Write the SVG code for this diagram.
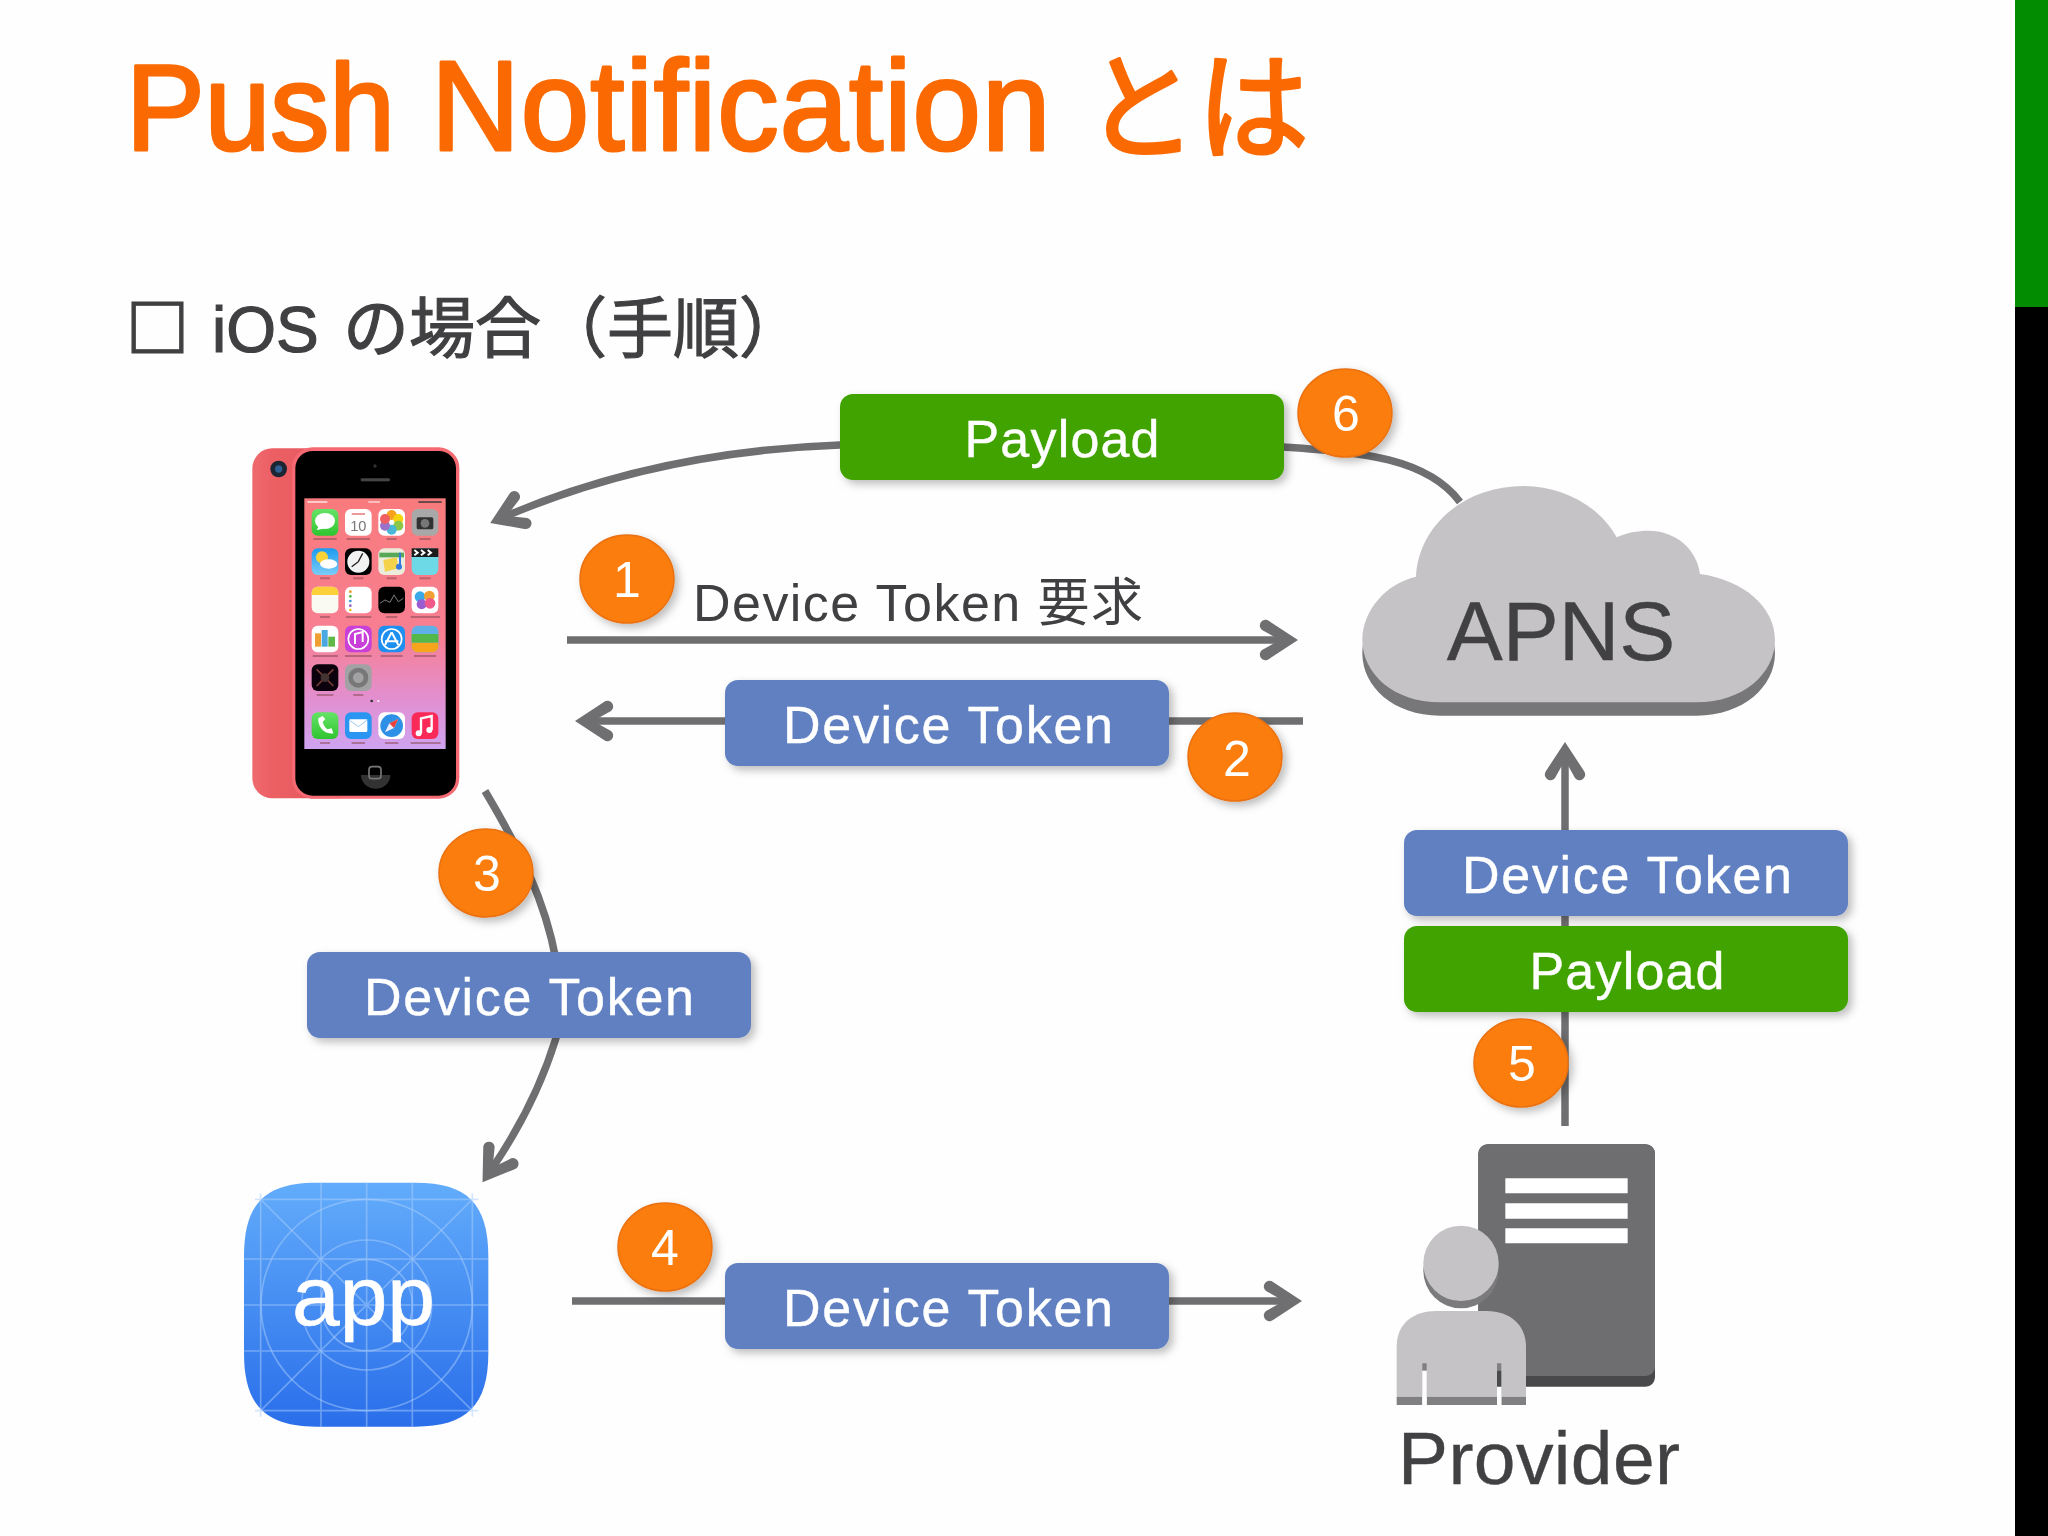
<svg xmlns="http://www.w3.org/2000/svg" width="2048" height="1536" viewBox="0 0 2048 1536">
<style>
text{font-family:"Liberation Sans","Noto Sans CJK JP",sans-serif}
.conn{fill:none;stroke:#6f6f71;stroke-width:7.5}
.pill{filter:url(#sh)}
.blue{fill:#6080c2}
.green{fill:#40a302}
.pt{fill:#fff;font-size:52px;text-anchor:middle;stroke:#fff;stroke-width:.4}
.badge{fill:#fb7d07;stroke:#ea7112;stroke-width:1.5;filter:url(#sh)}
.bt{fill:#fff;font-size:50px;text-anchor:middle}
.dk{fill:#414143;stroke:#414143;stroke-width:.4}
.lab{fill:#8a4a55;opacity:.55}
.gl{stroke:#a9cdfb;stroke-opacity:.5;stroke-width:5;fill:none}
</style>
<defs>
<marker id="ah" markerUnits="userSpaceOnUse" markerWidth="60" markerHeight="60" refX="25" refY="30" orient="auto" overflow="visible"><path fill="#6f6f71" d="M40 30L11 11A5 5 0 0 0 4 20L22 30L4 40A5 5 0 0 0 11 49Z"/></marker>
<filter id="sh" x="-15%" y="-25%" width="130%" height="150%"><feDropShadow dx="4" dy="4" stdDeviation="4" flood-color="#000" flood-opacity=".26"/></filter>
<filter id="soft"><feGaussianBlur stdDeviation="1.6"/></filter>
<linearGradient id="lcd" x1="0" y1="0" x2="0" y2="1"><stop offset="0" stop-color="#f97a7c"/><stop offset=".55" stop-color="#f77f92"/><stop offset=".8" stop-color="#e28fd0"/><stop offset="1" stop-color="#cfa3f0"/></linearGradient>
<linearGradient id="bk" x1="0" y1="0" x2="1" y2="0"><stop offset="0" stop-color="#ee6a6e"/><stop offset=".2" stop-color="#ec5f64"/><stop offset="1" stop-color="#e0555c"/></linearGradient>
<linearGradient id="appg" x1="0" y1="0" x2="0" y2="1"><stop offset="0" stop-color="#62acfb"/><stop offset="1" stop-color="#2a6eea"/></linearGradient>
<linearGradient id="gr1" x1="0" y1="0" x2="0" y2="1"><stop offset="0" stop-color="#66e368"/><stop offset="1" stop-color="#2fc42f"/></linearGradient>
<linearGradient id="bl1" x1="0" y1="0" x2="0" y2="1"><stop offset="0" stop-color="#1c9af0"/><stop offset="1" stop-color="#7acdf8"/></linearGradient>
</defs>
<rect width="2048" height="1536" fill="#fefefe"/>
<rect x="2015" y="0" width="33" height="307" fill="#018c01"/>
<rect x="2015" y="307" width="33" height="1229" fill="#000"/>

<g id="title"><text transform="translate(126 150) scale(1 1.04)" font-size="118" fill="#fb6a02" stroke="#fb6a02" stroke-width="3" stroke-linejoin="round">Push <tspan x="305" font-size="123" letter-spacing="1">Notification</tspan> <tspan x="959" font-size="112">とは</tspan></text></g>
<g id="subtitle"><text x="132" y="353" font-size="66" fill="#404042" stroke="#404042" stroke-width="1.2"><tspan font-size="85">□</tspan> <tspan x="212" y="352" font-size="64">iOS</tspan> <tspan x="343" y="352">の場合（手順）</tspan></text></g>

<g id="connectors">
<path class="conn" marker-end="url(#ah)" d="M1460 502C1425 455 1350 452 1284 447L1062 440L840 445C700 450 590 480 504 517"/>
<path class="conn" marker-end="url(#ah)" d="M567 640H1283"/>
<path class="conn" marker-end="url(#ah)" d="M1303 721H590"/>
<path class="conn" marker-end="url(#ah)" d="M485 791C520 850 545 900 556 960L556 1038C540 1090 515 1135 491 1170"/>
<path class="conn" marker-end="url(#ah)" d="M572 1301H1287"/>
<path class="conn" marker-end="url(#ah)" d="M1565 1126V757"/>
</g>

<g id="iphone" transform="translate(220 420) scale(.33333)">
<g filter="url(#soft)">
<rect x="97" y="85" width="320" height="1050" rx="60" fill="url(#bk)"/>
<rect x="216" y="82" width="502" height="1054" rx="62" fill="#f56a72"/>
<rect x="226" y="93" width="482" height="1034" rx="52" fill="#030303"/>
<circle cx="176" cy="147" r="25" fill="#1b2530"/><circle cx="176" cy="147" r="11" fill="#2d5e93"/>
<circle cx="465" cy="138" r="5" fill="#333"/><rect x="422" y="175" width="88" height="9" rx="4" fill="#444"/>
<path d="M423 1065A43 40 0 0 0 511 1065" fill="#333"/>
<rect x="447" y="1040" width="36" height="36" rx="9" fill="none" stroke="#777" stroke-width="5"/>
<rect x="253" y="235" width="424" height="752" fill="url(#lcd)"/>
<rect x="262" y="243" width="60" height="6" fill="#fff" opacity=".6"/><rect x="445" y="243" width="35" height="6" fill="#fff" opacity=".5"/><rect x="595" y="243" width="70" height="6" fill="#333" opacity=".7"/>
<!-- row 1 -->
<rect x="275" y="267" width="80" height="80" rx="18" fill="url(#gr1)"/><ellipse cx="315" cy="303" rx="30" ry="24" fill="#fff"/><path d="M290 330L298 315L310 326Z" fill="#fff"/>
<rect x="375" y="267" width="80" height="80" rx="18" fill="#fff"/><text x="415" y="334" font-size="44" fill="#777" text-anchor="middle">10</text><rect x="395" y="279" width="40" height="6" fill="#d33" opacity=".5"/>
<rect x="475" y="267" width="80" height="80" rx="18" fill="#fff"/><circle cx="515" cy="285" r="15" fill="#f7a11a"/><circle cx="535" cy="297" r="15" fill="#f6d40f"/><circle cx="535" cy="317" r="15" fill="#8bc84a"/><circle cx="515" cy="329" r="15" fill="#48b8d8"/><circle cx="495" cy="317" r="15" fill="#9a73c8"/><circle cx="495" cy="297" r="15" fill="#ef5e62"/>
<rect x="575" y="267" width="80" height="80" rx="18" fill="#a8a8a8"/><rect x="590" y="292" width="50" height="36" rx="5" fill="#333"/><circle cx="615" cy="310" r="13" fill="#777"/>
<!-- row 2 -->
<rect x="275" y="385" width="80" height="80" rx="18" fill="url(#bl1)"/><circle cx="306" cy="412" r="18" fill="#fbd238"/><ellipse cx="326" cy="432" rx="26" ry="14" fill="#fff"/>
<rect x="375" y="385" width="80" height="80" rx="18" fill="#050505"/><circle cx="415" cy="425" r="33" fill="#f2f2f2"/><path d="M415 425L395 440M415 425L428 400" stroke="#222" stroke-width="4"/>
<rect x="475" y="385" width="80" height="80" rx="18" fill="#ececdc"/><path d="M478 398H552V412H478Z" fill="#58a858"/><path d="M490 420L530 412L535 445L495 455Z" fill="#f4d24a"/><path d="M540 398V440" stroke="#3478e0" stroke-width="6"/><circle cx="537" cy="440" r="9" fill="#3478e0"/>
<rect x="575" y="385" width="80" height="80" rx="18" fill="#6ed9e6"/><rect x="575" y="385" width="80" height="26" fill="#1a1a1a"/><path d="M583 390L593 398L583 406M603 390L613 398L603 406M623 390L633 398L623 406" stroke="#fff" stroke-width="6" fill="none"/>
<!-- row 3 -->
<rect x="275" y="500" width="80" height="80" rx="18" fill="#fbfaf2"/><path d="M275 525V518A18 18 0 0 1 293 500H337A18 18 0 0 1 355 518V525Z" fill="#fbd039"/>
<rect x="375" y="500" width="80" height="80" rx="18" fill="#fff"/><circle cx="391" cy="515" r="4" fill="#f7931e"/><circle cx="391" cy="529" r="4" fill="#4db34d"/><circle cx="391" cy="543" r="4" fill="#3a8fe0"/><circle cx="391" cy="557" r="4" fill="#9a5cc8"/><circle cx="391" cy="570" r="4" fill="#f0c020"/>
<rect x="475" y="500" width="80" height="80" rx="18" fill="#060606"/><path d="M480 550L495 540L510 547L522 525L535 545L550 535" stroke="#777" stroke-width="3" fill="none"/>
<rect x="575" y="500" width="80" height="80" rx="18" fill="#fff"/><circle cx="600" cy="530" r="16" fill="#3aa8e8"/><circle cx="628" cy="528" r="16" fill="#f0a030"/><circle cx="605" cy="553" r="15" fill="#9a5cd0"/><circle cx="630" cy="550" r="16" fill="#f05a8a"/>
<!-- row 4 -->
<rect x="275" y="617" width="80" height="80" rx="18" fill="#fff"/><rect x="285" y="640" width="18" height="40" fill="#f0a030"/><rect x="305" y="630" width="18" height="50" fill="#4aa8e0"/><rect x="325" y="650" width="20" height="30" fill="#60b848"/>
<rect x="375" y="617" width="80" height="80" rx="18" fill="#c83fd8"/><circle cx="415" cy="657" r="30" fill="none" stroke="#fff" stroke-width="5"/><path d="M405 672V642L428 636V666" stroke="#fff" stroke-width="6" fill="none"/>
<rect x="475" y="617" width="80" height="80" rx="18" fill="#1f8ff0"/><circle cx="515" cy="657" r="30" fill="none" stroke="#fff" stroke-width="5"/><path d="M515 637L495 675M515 637L535 675M495 664H535" stroke="#fff" stroke-width="6" fill="none"/>
<rect x="575" y="617" width="80" height="80" rx="18" fill="#60b0e8"/><rect x="575" y="642" width="80" height="26" fill="#52b848"/><path d="M575 668H655V679A18 18 0 0 1 637 697H593A18 18 0 0 1 575 679Z" fill="#f7a51e"/>
<!-- row 5 -->
<rect x="275" y="733" width="80" height="80" rx="18" fill="#080608"/><path d="M290 748L340 798M340 748L290 798" stroke="#7a3a3a" stroke-width="5"/><circle cx="315" cy="773" r="13" fill="#433"/>
<rect x="375" y="733" width="80" height="80" rx="18" fill="#a2a2a4"/><circle cx="415" cy="773" r="30" fill="#787878"/><circle cx="415" cy="773" r="16" fill="#a2a2a4"/>
<circle cx="455" cy="843" r="4" fill="#333"/><circle cx="475" cy="843" r="3" fill="#fff"/>
<!-- dock -->
<rect x="275" y="877" width="80" height="80" rx="18" fill="url(#gr1)"/><path d="M295 895C292 920 315 945 340 940L335 925L322 928C315 922 310 915 308 905L316 898L308 888Z" fill="#fff"/>
<rect x="375" y="877" width="80" height="80" rx="18" fill="#2a96f2"/><rect x="388" y="898" width="54" height="38" rx="4" fill="#fff"/><path d="M388 900L415 920L442 900" stroke="#9cc8ef" stroke-width="3" fill="none"/>
<rect x="475" y="877" width="80" height="80" rx="18" fill="#fff"/><circle cx="515" cy="917" r="34" fill="#2f8fe6"/><path d="M535 897L522 924L495 937L508 910Z" fill="#eef"/><path d="M535 897L522 924L508 910Z" fill="#e8433a"/>
<rect x="575" y="877" width="80" height="80" rx="18" fill="#f92c58"/><path d="M603 940V895L635 888V930" stroke="#fff" stroke-width="7" fill="none"/><circle cx="596" cy="940" r="9" fill="#fff"/><circle cx="628" cy="930" r="9" fill="#fff"/>
<!-- icon captions -->
<path class="lab" d="M280 354h70v6h-70zM380 354h70v6h-70zM500 354h30v6h-30zM598 354h34v6h-34zM300 472h30v6h-30zM400 472h30v6h-30zM500 472h30v6h-30zM598 472h34v6h-34zM300 588h30v6h-30zM378 588h76v6h-76zM498 588h34v6h-34zM572 588h88v6h-88zM278 705h76v6h-76zM375 705h80v6h-80zM482 705h66v6h-66zM582 705h66v6h-66zM290 822h50v6h-50zM400 822h30v6h-30zM300 966h30v6h-30zM395 966h40v6h-40zM495 966h40v6h-40zM572 966h90v6h-90z"/>
</g>
</g>

<g id="apns" transform="translate(1330 450) scale(.33333)">
<path transform="translate(0 40)" fill="#777779" d="M330 757C190 757 97 670 97 570C97 480 170 400 258 380C265 230 400 108 580 108C700 108 810 170 860 262C890 248 920 242 955 242C1035 242 1100 295 1110 372C1240 390 1335 470 1335 570C1335 670 1240 757 1100 757Z"/>
<path fill="#c5c3c6" d="M330 757C190 757 97 670 97 570C97 480 170 400 258 380C265 230 400 108 580 108C700 108 810 170 860 262C890 248 920 242 955 242C1035 242 1100 295 1110 372C1240 390 1335 470 1335 570C1335 670 1240 757 1100 757Z"/>
</g>
<g id="apns-label"><text class="dk" x="1561" y="660" font-size="84" text-anchor="middle">APNS</text></g>

<g id="app" transform="translate(220 1160) scale(.33333)">
<path fill="url(#appg)" d="M290 68H587C740 68 805 130 805 290V580C805 735 740 800 587 800H290C135 800 72 735 72 580V290C72 130 135 68 290 68Z"/>
<path class="gl" d="M122 100V770M303 68V800M440 68V800M577 68V800M757 100V770M105 118H775M72 297H805M72 435H805M72 573H805M105 752H775M122 118L757 752M757 118L122 752"/>
<circle class="gl" cx="440" cy="435" r="317"/><circle class="gl" cx="440" cy="435" r="195"/><circle class="gl" cx="440" cy="435" r="137"/>
</g>
<g id="app-label"><text x="292" y="1325" font-size="84" fill="#fff" stroke="#fff" stroke-width=".6" textLength="143" lengthAdjust="spacingAndGlyphs">app</text></g>

<g id="provider" transform="translate(1370 1120) scale(.33333)">
<rect x="325" y="73" width="530" height="727" rx="28" fill="#49494b"/>
<path d="M353 73H827A28 28 0 0 1 855 101V740A28 28 0 0 1 827 768H325V101A28 28 0 0 1 353 73Z" fill="#6e6e70"/>
<path fill="#fff" d="M406 175H773V220H406ZM406 250H773V296H406ZM406 325H773V370H406Z"/>
<circle cx="273" cy="452" r="113" fill="#7b7b7d"/><circle cx="273" cy="430" r="113" fill="#c5c3c6"/>
<path fill="#c5c3c6" d="M80 830V680C80 610 130 573 200 573H350C420 573 468 615 468 680V830Z"/>
<path fill="#807f81" d="M80 830H157V855H80ZM170 830H381V855H170ZM394 830H468V855H394ZM157 730H170V752H157ZM381 730H394V752H381Z"/>
<path fill="#fefefe" d="M157 752H170V855H157ZM381 800H394V855H381Z"/><path fill="#4a4a4c" d="M381 752H394V800H381Z"/>
</g>
<g id="provider-label"><text class="dk" x="1398" y="1484" font-size="75" textLength="282">Provider</text></g>

<g id="request-label"><text x="693" y="621" font-size="52" fill="#404042" textLength="450">Device Token 要求</text></g>

<g id="pill-payload-top"><rect class="pill green" x="840" y="394" width="444" height="86" rx="13"/><text class="pt" x="1062" y="457" textLength="195">Payload</text></g>
<g id="pill-token-2"><rect class="pill blue" x="725" y="680" width="444" height="86" rx="13"/><text class="pt" x="948" y="743" textLength="330">Device Token</text></g>
<g id="pill-token-3"><rect class="pill blue" x="307" y="952" width="444" height="86" rx="13"/><text class="pt" x="529" y="1015" textLength="330">Device Token</text></g>
<g id="pill-token-4"><rect class="pill blue" x="725" y="1263" width="444" height="86" rx="13"/><text class="pt" x="948" y="1326" textLength="330">Device Token</text></g>
<g id="pill-token-5"><rect class="pill blue" x="1404" y="830" width="444" height="86" rx="13"/><text class="pt" x="1627" y="893" textLength="330">Device Token</text></g>
<g id="pill-payload-5"><rect class="pill green" x="1404" y="926" width="444" height="86" rx="13"/><text class="pt" x="1627" y="989" textLength="195">Payload</text></g>

<g id="badge-1"><ellipse class="badge" cx="627" cy="579" rx="47" ry="44"/><text class="bt" x="627" y="597">1</text></g>
<g id="badge-2"><ellipse class="badge" cx="1235" cy="757" rx="47" ry="44"/><text class="bt" x="1237" y="776">2</text></g>
<g id="badge-3"><ellipse class="badge" cx="486" cy="873" rx="47" ry="44"/><text class="bt" x="487" y="891">3</text></g>
<g id="badge-4"><ellipse class="badge" cx="665" cy="1247" rx="47" ry="44"/><text class="bt" x="665" y="1265">4</text></g>
<g id="badge-5"><ellipse class="badge" cx="1521" cy="1063" rx="47" ry="44"/><text class="bt" x="1522" y="1081">5</text></g>
<g id="badge-6"><ellipse class="badge" cx="1345" cy="413" rx="47" ry="44"/><text class="bt" x="1346" y="431">6</text></g>
</svg>
